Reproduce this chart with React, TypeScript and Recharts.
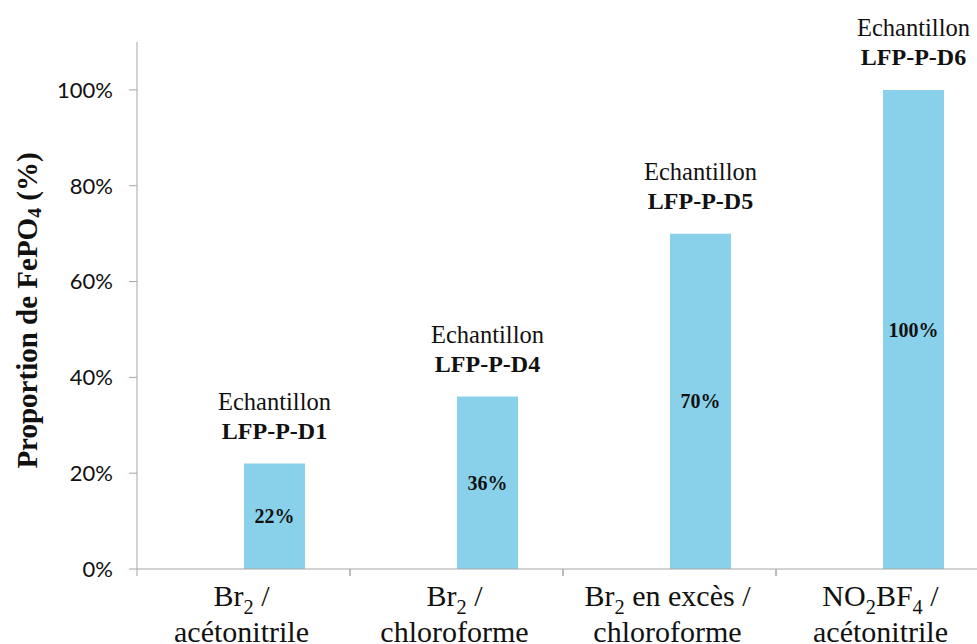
import React from 'react';
import { BarChart, Bar, XAxis, YAxis, LabelList } from 'recharts';

// "_2" marque un indice, "|" un retour à la ligne
const categories = [
  'Br_2 /|acétonitrile',
  'Br_2 /|chloroforme',
  'Br_2 en excès /|chloroforme',
  'NO_2BF_4 /|acétonitrile',
];
const proportions = [22, 36, 70, 100];
const samples = ['LFP-P-D1', 'LFP-P-D4', 'LFP-P-D5', 'LFP-P-D6'];
const yTicks = [0, 20, 40, 60, 80, 100];

const data = categories.map((c, i) => ({
  category: c,
  value: proportions[i],
  sample: samples[i],
}));

const SERIF = '"Liberation Serif", "Times New Roman", serif';
const AXIS = '#a6a6a6';
const BAR = '#89d1ea';

// découpe "NO_2BF_4 /" en tspans avec indices
function rich(text: string, size: number) {
  const parts = text.split(/_(\d+)/);
  const out: React.ReactNode[] = [];
  let shifted = false;
  parts.forEach((p, i) => {
    if (!p) return;
    if (i % 2 === 1) {
      out.push(
        <tspan key={i} dy={size * 0.25} style={{ fontSize: size * 0.68 }}>
          {p}
        </tspan>
      );
      shifted = true;
    } else {
      out.push(
        <tspan key={i} dy={shifted ? -size * 0.25 : 0}>
          {p}
        </tspan>
      );
      shifted = false;
    }
  });
  return out;
}

function CategoryTick(props: any) {
  const { x, y, payload } = props;
  const half = payload.offset ?? 106.5;
  const lines = String(payload.value).split('|');
  return (
    <g>
      <line x1={x - half} x2={x - half} y1={y - 7} y2={y} stroke={AXIS} />
      <line x1={x + half} x2={x + half} y1={y - 7} y2={y} stroke={AXIS} />
      {lines.map((l, i) => (
        <text
          key={i}
          x={x - 2}
          y={y + 30 + i * 36}
          textAnchor="middle"
          fill="#111"
          style={{ fontFamily: SERIF, fontSize: 30 }}
        >
          {rich(l, 30)}
        </text>
      ))}
    </g>
  );
}

function SampleLabel(props: any) {
  const { x, y, width, value } = props;
  const cx = x + width / 2;
  return (
    <g>
      <text
        x={cx}
        y={y - 54}
        textAnchor="middle"
        fill="#111"
        style={{ fontFamily: SERIF, fontSize: 24.5 }}
      >
        Echantillon
      </text>
      <text
        x={cx}
        y={y - 25}
        textAnchor="middle"
        fill="#111"
        style={{ fontFamily: SERIF, fontSize: 24, fontWeight: 'bold' }}
      >
        {value}
      </text>
    </g>
  );
}

function YTitle(props: any) {
  const vb = props.viewBox;
  const cy = vb.y + vb.height / 2 + 5;
  const cx = 27;
  return (
    <text
      x={cx}
      y={cy}
      transform={`rotate(-90, ${cx}, ${cy})`}
      textAnchor="middle"
      dominantBaseline="central"
      fill="#111"
      style={{ fontFamily: SERIF, fontWeight: 'bold', fontSize: 29 }}
    >
      {rich('Proportion de FePO_4 (%)', 29)}
    </text>
  );
}

export default function App() {
  return (
    <div
      style={{
        position: 'fixed',
        left: 0,
        top: 0,
        width: 977,
        height: 644,
        overflow: 'hidden',
        background: '#fff',
      }}
    >
      <BarChart
        width={1000}
        height={700}
        data={data}
        margin={{ top: 42, right: 11, left: 0, bottom: 0 }}
        barGap={0}
      >
        <XAxis
          dataKey="category"
          height={131}
          stroke={AXIS}
          tickLine={false}
          tickSize={7}
          tickMargin={0}
          tick={<CategoryTick />}
          interval={0}
        />
        <YAxis
          width={137}
          domain={[0, 110]}
          ticks={yTicks}
          tickFormatter={(v) => `${v}%`}
          stroke={AXIS}
          tickSize={8}
          tickMargin={16}
          tick={{ fill: '#111', fontSize: 22, fontFamily: 'Lato, sans-serif' }}
          label={{ content: <YTitle /> }}
        />
        {/* série vide comme dans l'original : décale la barre vers la droite */}
        <Bar dataKey="empty" fill="none" barSize={61} isAnimationActive={false} />
        <Bar dataKey="value" fill={BAR} barSize={61} isAnimationActive={false}>
          <LabelList
            dataKey="value"
            position="center"
            formatter={(v: any) => `${v}%`}
            style={{ fontFamily: SERIF, fontWeight: 'bold', fontSize: 20, fill: '#111' }}
          />
          <LabelList dataKey="sample" content={<SampleLabel />} />
        </Bar>
      </BarChart>
    </div>
  );
}
